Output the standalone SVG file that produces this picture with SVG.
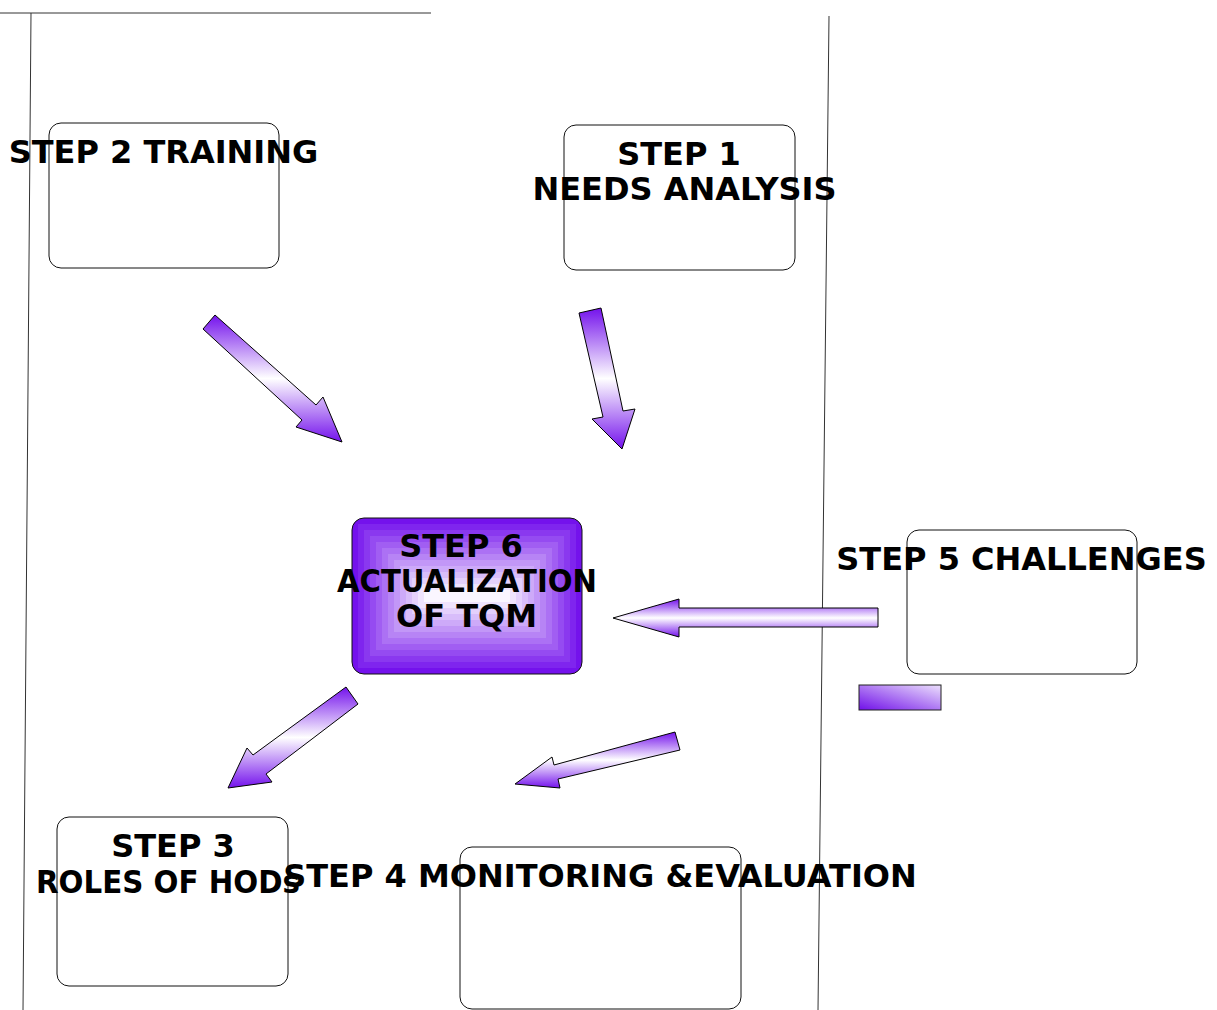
<svg xmlns="http://www.w3.org/2000/svg" width="1217" height="1010" viewBox="0 0 1217 1010">
<style>
.box{fill:#fff;stroke:#111;stroke-width:1}
.lbl{font-family:"DejaVu Sans","Liberation Sans",sans-serif;font-weight:bold;font-size:32px;fill:#000;text-anchor:middle}
.arr{fill:url(#ag);stroke:#000;stroke-width:1;stroke-linejoin:miter}
.rule{stroke:#333;stroke-width:1;fill:none}
</style>
<defs>
<linearGradient id="ag" x1="0" y1="0" x2="0" y2="1">
<stop offset="0" stop-color="#7412ec"/>
<stop offset="0.5" stop-color="#ffffff"/>
<stop offset="1" stop-color="#7412ec"/>
</linearGradient>
<linearGradient id="sg" x1="0" y1="1" x2="1" y2="0">
<stop offset="0" stop-color="#7010e8"/>
<stop offset="1" stop-color="#ece0fd"/>
</linearGradient>
<clipPath id="c6"><rect x="352" y="518" width="230" height="156" rx="12"/></clipPath>
</defs>
<rect width="1217" height="1010" fill="#fff"/>
<g id="rules">
<line class="rule" x1="0" y1="13" x2="431" y2="13"/>
<line class="rule" x1="31" y1="13" x2="23" y2="1010"/>
<line class="rule" x1="829" y1="16" x2="818" y2="1010"/>
</g>
<g id="step2">
<rect class="box" x="49" y="123" width="230" height="145" rx="12"/>
<text class="lbl" x="163.5" y="163">STEP 2 TRAINING</text>
</g>
<g id="step1">
<rect class="box" x="564" y="125" width="231" height="145" rx="12"/>
<text class="lbl" x="679" y="165">STEP 1</text>
<text class="lbl" x="684.5" y="200">NEEDS ANALYSIS</text>
</g>
<g id="step5">
<rect class="box" x="907" y="530" width="230" height="144" rx="12"/>
<text class="lbl" x="1021.5" y="570">STEP 5 CHALLENGES</text>
</g>
<g id="step3">
<rect class="box" x="57" y="817" width="231" height="169" rx="12"/>
<text class="lbl" x="173" y="857">STEP 3</text>
<text class="lbl" x="168" y="893" textLength="264" lengthAdjust="spacingAndGlyphs">ROLES OF HODs</text>
</g>
<g id="step4">
<rect class="box" x="460" y="847" width="281" height="162" rx="12"/>
<text class="lbl" x="600" y="887">STEP 4 MONITORING &amp;EVALUATION</text>
</g>
<g id="step6">
<g clip-path="url(#c6)">
<rect x="352" y="518" width="230" height="156" fill="#7412ec"/>
<rect x="358" y="524" width="218" height="144" fill="#7f25ee"/>
<rect x="364" y="530" width="206" height="132" fill="#8a38ef"/>
<rect x="370" y="536" width="194" height="120" fill="#954bf1"/>
<rect x="376" y="542" width="182" height="108" fill="#a15ef2"/>
<rect x="382" y="548" width="170" height="96" fill="#ac71f4"/>
<rect x="388" y="554" width="158" height="84" fill="#b784f5"/>
<rect x="394" y="560" width="146" height="72" fill="#c297f7"/>
<rect x="400" y="566" width="134" height="60" fill="#cdaaf9"/>
<rect x="406" y="572" width="122" height="48" fill="#d8bdfa"/>
<rect x="412" y="578" width="110" height="36" fill="#e4d0fc"/>
<rect x="418" y="584" width="98" height="24" fill="#efe3fd"/>
<rect x="424" y="590" width="86" height="12" fill="#faf6ff"/>
</g>
<rect x="352" y="518" width="230" height="156" rx="12" fill="none" stroke="#111" stroke-width="1"/>
<text class="lbl" x="461" y="557">STEP 6</text>
<text class="lbl" x="467" y="592" textLength="260" lengthAdjust="spacingAndGlyphs">ACTUALIZATION</text>
<text class="lbl" x="466.5" y="627">OF TQM</text>
</g>
<g id="connectors">
<polygon class="arr" points="215,315 316,405 323,397 342,442 296,427 302,420 203,329"/>
<polygon class="arr" points="579,313 601,308 623,411 635,409 622,449 592,419 603,417"/>
<polygon class="arr" points="613,618 679,599 679,608 878,608 878,627 679,627 679,637"/>
<polygon class="arr" points="346,687 358,704 266,774 272,782 228,788 247,748 253,755"/>
<polygon class="arr" points="675,732 680,750 558,779 560,788 515,784 552,757 554,765"/>
</g>
<rect id="legend-swatch" x="859" y="685" width="82" height="25" fill="url(#sg)" stroke="#222" stroke-width="1"/>
</svg>
